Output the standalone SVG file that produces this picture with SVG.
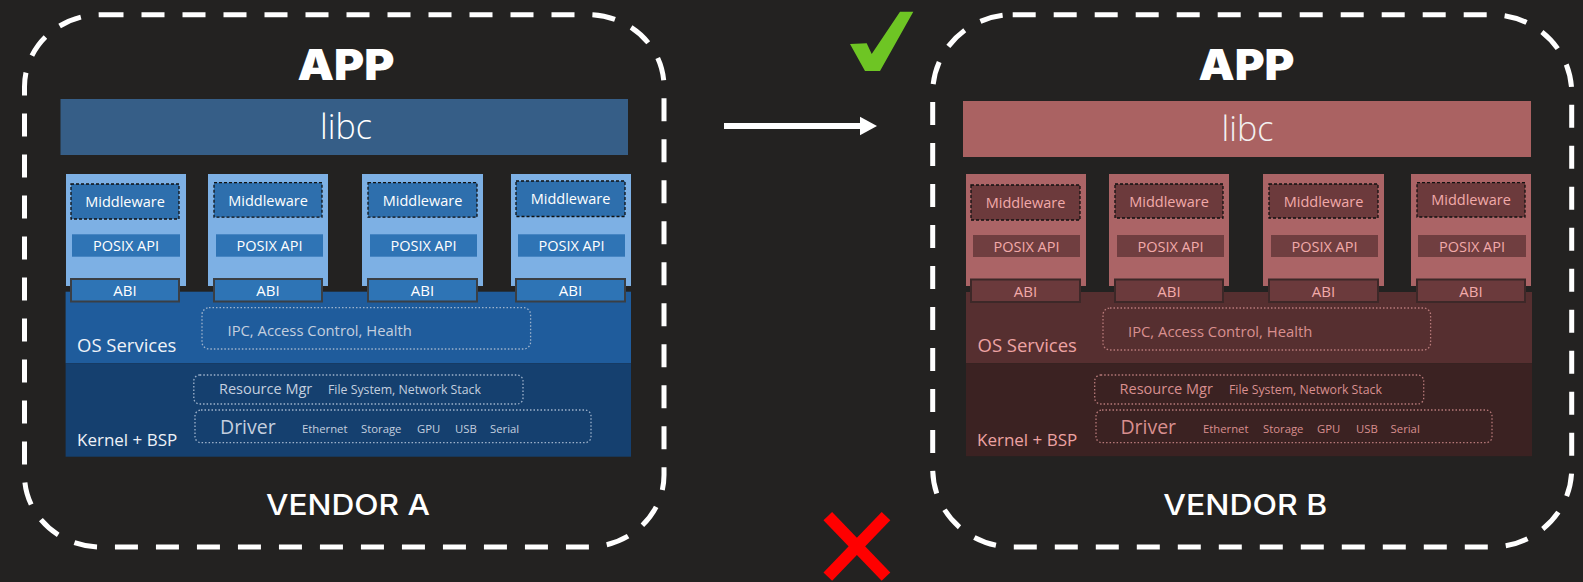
<svg xmlns="http://www.w3.org/2000/svg" width="1583" height="582" viewBox="0 0 1583 582">
<style>
.frame{fill:none;stroke:#fff;stroke-width:5;stroke-dasharray:23 18}
.app{font-family:Inter,"Liberation Sans",sans-serif;font-weight:900;font-size:42px;fill:#fff;text-anchor:middle}
.vendor{font-family:Inter,"Liberation Sans",sans-serif;font-weight:500;font-size:29px;fill:#fff;text-anchor:middle}
.t{font-family:"Open Sans","Noto Sans","Liberation Sans",sans-serif}
.libc{font-weight:300;font-size:34px;text-anchor:middle}
.c{text-anchor:middle}
.mw{stroke:#111;stroke-width:1.3;stroke-dasharray:3 2}
.abi{stroke-width:2}
.dot{fill:none;stroke-width:1.3;stroke-dasharray:1.5 2}
.a .col{fill:#7db0e4}.a .mw{fill:#2e6fad}.a .px{fill:#2f74b5}.a .abi{fill:#2e74b5;stroke:#3a3f45}
.a .os{fill:#1f5c9c}.a .kn{fill:#15406f}.a .lb{fill:#365e87}
.a .w{fill:#fff}.a .lt{fill:#eef2f8}.a .g{fill:#c4cfdf}.a .dot{stroke:#9fb3cc}
.b .col{fill:#ab6466}.b .mw{fill:#6c3a3c}.b .px{fill:#703e40}.b .abi{fill:#6b3a3c;stroke:#3d2828}
.b .os{fill:#562f30}.b .kn{fill:#3b2222}.b .lb{fill:#aa6262}
.b .w{fill:#f2f0f0}.b .lt{fill:#eda3a3}.b .g{fill:#d98f8f}.b .dot{stroke:#b87a7a}
.b .pk{fill:#f2aaaa}
</style>
<rect width="1583" height="582" fill="#232221"/>

<g id="vendorA" class="a">
  <rect class="frame" x="24.5" y="14.7" width="639.5" height="532.3" rx="76" ry="72"/>
  <text class="app" x="346" y="80" textLength="97" lengthAdjust="spacingAndGlyphs">APP</text>
  <g id="libcA"><rect class="lb" x="60.5" y="99" width="567.5" height="56"/><text class="t libc w" x="346" y="139">libc</text></g>
  <rect class="os" x="65.6" y="291.7" width="565.4" height="71.5"/>
  <rect class="kn" x="65.6" y="363.2" width="565.4" height="93.5"/>
  <g id="colA1"><rect class="col" x="66" y="174" width="120" height="112"/>
    <rect class="mw" x="71" y="184" width="108" height="35"/><text class="t c w" x="125" y="207" font-size="14.5">Middleware</text>
    <rect class="px" x="72" y="234.3" width="108" height="22.4"/><text class="t c w" x="126" y="251" font-size="14.5">POSIX API</text>
    <rect class="abi" x="71" y="279" width="108" height="22.5"/><text class="t c w" x="125" y="296" font-size="15">ABI</text></g>
  <g id="colA2"><rect class="col" x="208" y="174" width="120" height="112"/>
    <rect class="mw" x="214" y="182.7" width="108" height="34.5"/><text class="t c w" x="268" y="205.5" font-size="14.5">Middleware</text>
    <rect class="px" x="216" y="234.3" width="107" height="22.4"/><text class="t c w" x="269.5" y="251" font-size="14.5">POSIX API</text>
    <rect class="abi" x="214" y="279" width="108" height="22.5"/><text class="t c w" x="268" y="296" font-size="15">ABI</text></g>
  <g id="colA3"><rect class="col" x="362" y="174" width="121" height="112"/>
    <rect class="mw" x="368" y="182.7" width="109" height="34.5"/><text class="t c w" x="422.5" y="205.5" font-size="14.5">Middleware</text>
    <rect class="px" x="370" y="234.3" width="107" height="22.4"/><text class="t c w" x="423.5" y="251" font-size="14.5">POSIX API</text>
    <rect class="abi" x="368" y="279" width="109" height="22.5"/><text class="t c w" x="422.5" y="296" font-size="15">ABI</text></g>
  <g id="colA4"><rect class="col" x="511" y="174" width="120" height="112"/>
    <rect class="mw" x="516" y="181" width="109" height="35.5"/><text class="t c w" x="570.5" y="204" font-size="14.5">Middleware</text>
    <rect class="px" x="518" y="234.3" width="107" height="22.4"/><text class="t c w" x="571.5" y="251" font-size="14.5">POSIX API</text>
    <rect class="abi" x="516" y="279" width="109" height="22.5"/><text class="t c w" x="570.5" y="296" font-size="15">ABI</text></g>
  <g id="osA">
    <rect class="dot" x="202" y="307.7" width="328.6" height="41.3" rx="7"/>
    <text class="t g" x="227.5" y="336" font-size="14.8">IPC, Access Control, Health</text>
    <text class="t lt" x="77" y="351.7" font-size="18.5">OS Services</text></g>
  <g id="kernelA">
    <rect class="dot" x="193.8" y="375" width="329.2" height="29" rx="6"/>
    <text class="t g" x="219" y="393.5" font-size="14.5">Resource Mgr</text>
    <text class="t g" x="328" y="393.5" font-size="12.3">File System, Network Stack</text>
    <rect class="dot" x="195" y="410" width="396" height="32.7" rx="6"/>
    <text class="t g" x="220" y="433.5" font-size="19.5">Driver</text>
    <text class="t g" x="302" y="432.5" font-size="11.3">Ethernet</text>
    <text class="t g" x="361" y="432.5" font-size="11.3">Storage</text>
    <text class="t g" x="417" y="432.5" font-size="11.3">GPU</text>
    <text class="t g" x="455" y="432.5" font-size="11.3">USB</text>
    <text class="t g" x="490" y="432.5" font-size="11.3">Serial</text>
    <text class="t lt" x="77" y="446" font-size="17">Kernel + BSP</text></g>
  <text class="vendor" x="348" y="515" textLength="164" lengthAdjust="spacingAndGlyphs">VENDOR A</text>
</g>

<g id="vendorB" class="b">
  <rect class="frame" x="932.7" y="14.7" width="639" height="532.3" rx="80" ry="78"/>
  <text class="app" x="1246.5" y="80" textLength="96" lengthAdjust="spacingAndGlyphs">APP</text>
  <g id="libcB"><rect class="lb" x="963" y="101" width="568" height="56"/><text class="t libc w" x="1247.5" y="141">libc</text></g>
  <rect class="os" x="966" y="292" width="566" height="71.2"/>
  <rect class="kn" x="966" y="363.2" width="566" height="93"/>
  <g id="colB1"><rect class="col" x="966" y="174" width="120" height="112"/>
    <rect class="mw" x="971" y="185" width="109" height="35"/><text class="t c pk" x="1025.5" y="208" font-size="14.5">Middleware</text>
    <rect class="px" x="973" y="235" width="107" height="22"/><text class="t c pk" x="1026.5" y="251.5" font-size="14.5">POSIX API</text>
    <rect class="abi" x="971" y="279.5" width="109" height="22.5"/><text class="t c pk" x="1025.5" y="296.5" font-size="15">ABI</text></g>
  <g id="colB2"><rect class="col" x="1109" y="174" width="120" height="112"/>
    <rect class="mw" x="1115" y="184" width="108" height="34"/><text class="t c pk" x="1169" y="206.5" font-size="14.5">Middleware</text>
    <rect class="px" x="1117" y="235" width="107" height="22"/><text class="t c pk" x="1170.5" y="251.5" font-size="14.5">POSIX API</text>
    <rect class="abi" x="1115" y="279.5" width="108" height="22.5"/><text class="t c pk" x="1169" y="296.5" font-size="15">ABI</text></g>
  <g id="colB3"><rect class="col" x="1263" y="174" width="121" height="112"/>
    <rect class="mw" x="1269" y="184" width="109" height="34"/><text class="t c pk" x="1323.5" y="206.5" font-size="14.5">Middleware</text>
    <rect class="px" x="1271" y="235" width="107" height="22"/><text class="t c pk" x="1324.5" y="251.5" font-size="14.5">POSIX API</text>
    <rect class="abi" x="1269" y="279.5" width="109" height="22.5"/><text class="t c pk" x="1323.5" y="296.5" font-size="15">ABI</text></g>
  <g id="colB4"><rect class="col" x="1411" y="174" width="120" height="112"/>
    <rect class="mw" x="1417" y="182.7" width="108" height="34.3"/><text class="t c pk" x="1471" y="205" font-size="14.5">Middleware</text>
    <rect class="px" x="1418" y="235" width="108" height="22"/><text class="t c pk" x="1472" y="251.5" font-size="14.5">POSIX API</text>
    <rect class="abi" x="1417" y="279.5" width="108" height="22.5"/><text class="t c pk" x="1471" y="296.5" font-size="15">ABI</text></g>
  <g id="osB">
    <rect class="dot" x="1103" y="308" width="327.6" height="42" rx="7"/>
    <text class="t g" x="1128" y="336.5" font-size="14.8">IPC, Access Control, Health</text>
    <text class="t lt" x="977.5" y="352" font-size="18.5">OS Services</text></g>
  <g id="kernelB">
    <rect class="dot" x="1094.7" y="375" width="329" height="29" rx="6"/>
    <text class="t g" x="1119.6" y="393.5" font-size="14.5">Resource Mgr</text>
    <text class="t g" x="1229" y="393.5" font-size="12.3">File System, Network Stack</text>
    <rect class="dot" x="1096" y="410" width="396" height="32.7" rx="6"/>
    <text class="t g" x="1120.4" y="433.5" font-size="19.5">Driver</text>
    <text class="t g" x="1203" y="432.5" font-size="11.3">Ethernet</text>
    <text class="t g" x="1263" y="432.5" font-size="11.3">Storage</text>
    <text class="t g" x="1317" y="432.5" font-size="11.3">GPU</text>
    <text class="t g" x="1356" y="432.5" font-size="11.3">USB</text>
    <text class="t g" x="1390.6" y="432.5" font-size="11.3">Serial</text>
    <text class="t lt" x="977" y="446" font-size="17">Kernel + BSP</text></g>
  <text class="vendor" x="1245.3" y="515" textLength="164" lengthAdjust="spacingAndGlyphs">VENDOR B</text>
</g>

<g id="connectors">
  <line x1="724" y1="126" x2="861" y2="126" stroke="#fff" stroke-width="6"/>
  <polygon points="860,116.7 877,126 860,135.3" fill="#fff"/>
</g>
<g id="check"><polygon points="850,44 866.7,43.3 871.7,54 900,11.7 913.3,11.7 880,71 865,71" fill="#6ec524"/></g>
<g id="cross" stroke="#ff0000" stroke-width="12">
  <line x1="827.8" y1="516.2" x2="886" y2="576.7"/>
  <line x1="886" y1="516.2" x2="827.8" y2="576.7"/>
</g>
</svg>
